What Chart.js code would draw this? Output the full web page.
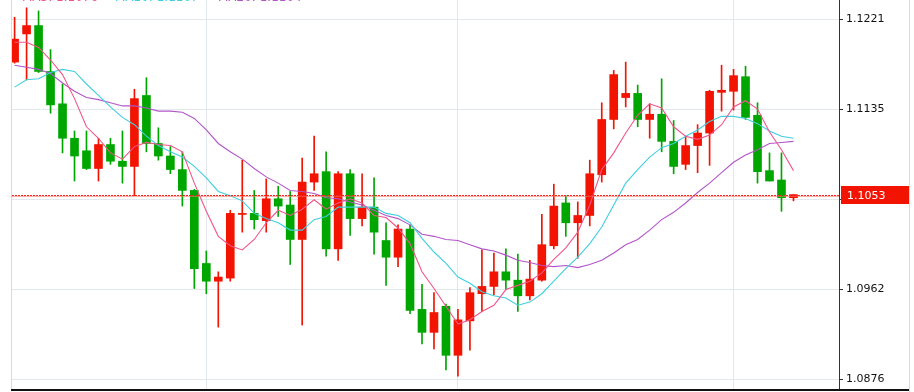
<!DOCTYPE html>
<html>
<head>
<meta charset="utf-8">
<script src="https://cdn.jsdelivr.net/npm/chart.js@4.4.1/dist/chart.umd.min.js"></script>
<style>
  html, body { margin: 0; padding: 0; background: #fff; }
  canvas { display: block; }
</style>
</head>
<body>
<canvas id="kChart" width="914" height="392"></canvas>
<script>
// daily candles (OHLC)
const opens = [1.1180, 1.1207, 1.1215, 1.1171, 1.1140, 1.1107, 1.1095, 1.1078, 1.1101, 1.1085,
  1.1080, 1.1148, 1.1102, 1.1090, 1.1077, 1.1057, 1.0987, 1.0970, 1.0973, 1.1034,
  1.1035, 1.1028, 1.1049, 1.1043, 1.1010, 1.1065, 1.1075, 1.1001, 1.1073, 1.1030,
  1.1041, 1.1009, 1.0993, 1.1020, 1.0943, 1.0921, 1.0946, 1.0899, 1.0932, 1.0958,
  1.0965, 1.0979, 1.0971, 1.0956, 1.0971, 1.1004, 1.1045, 1.1026, 1.1033, 1.1072,
  1.1125, 1.1146, 1.1150, 1.1125, 1.1130, 1.1104, 1.1082, 1.1100, 1.1112, 1.1151,
  1.1152, 1.1166, 1.1129, 1.1076, 1.1067, 1.1050];
const highs = [1.1223, 1.1232, 1.1229, 1.1192, 1.1159, 1.1114, 1.1114, 1.1107, 1.1107, 1.1114,
  1.1154, 1.1165, 1.1117, 1.1099, 1.1094, 1.1058, 1.0999, 1.0979, 1.1038, 1.1086,
  1.1057, 1.1068, 1.1061, 1.1056, 1.1088, 1.1109, 1.1094, 1.1075, 1.1077, 1.1073,
  1.1069, 1.1026, 1.1024, 1.1024, 1.0967, 1.0959, 1.0948, 1.0943, 1.0964, 1.1000,
  1.0997, 1.1001, 1.0996, 1.0990, 1.1034, 1.1063, 1.1052, 1.1046, 1.1086, 1.1141,
  1.1172, 1.1180, 1.1158, 1.1140, 1.1164, 1.1124, 1.1108, 1.1120, 1.1153, 1.1177,
  1.1173, 1.1176, 1.1141, 1.1093, 1.1093, 1.1053];
const lows = [1.1179, 1.1163, 1.1170, 1.1131, 1.1093, 1.1066, 1.1077, 1.1066, 1.1082, 1.1064,
  1.1052, 1.1094, 1.1086, 1.1073, 1.1042, 1.0963, 1.0958, 1.0926, 1.0970, 1.1017,
  1.1020, 1.1017, 1.1032, 1.0986, 1.0928, 1.1057, 1.0994, 1.0990, 1.1014, 1.1023,
  1.0996, 1.0966, 1.0984, 1.0939, 1.0910, 1.0905, 1.0885, 1.0879, 1.0904, 1.0941,
  1.0957, 1.0962, 1.0941, 1.0952, 1.0970, 1.1001, 1.1013, 1.0992, 1.1023, 1.1065,
  1.1116, 1.1137, 1.1118, 1.1107, 1.1094, 1.1073, 1.1077, 1.1074, 1.1081, 1.1133,
  1.1134, 1.1125, 1.1064, 1.1066, 1.1037, 1.1047];
const closes = [1.1202, 1.1215, 1.1171, 1.1139, 1.1107, 1.1090, 1.1078, 1.1101, 1.1085, 1.1080,
  1.1145, 1.1102, 1.1090, 1.1077, 1.1057, 1.0982, 1.0970, 1.0974, 1.1035, 1.1035,
  1.1029, 1.1049, 1.1042, 1.1010, 1.1065, 1.1073, 1.1001, 1.1073, 1.1030, 1.1041,
  1.1017, 1.0993, 1.1020, 1.0942, 1.0921, 1.0940, 1.0899, 1.0933, 1.0959, 1.0965,
  1.0979, 1.0971, 1.0956, 1.0972, 1.1005, 1.1042, 1.1026, 1.1033, 1.1073, 1.1125,
  1.1168, 1.1150, 1.1125, 1.1130, 1.1104, 1.1080, 1.1100, 1.1112, 1.1152, 1.1153,
  1.1167, 1.1127, 1.1075, 1.1066, 1.1050, 1.1053];

// moving averages as drawn on the screenshot
const ma5 = [1.1199, 1.1199, 1.1194, 1.1182, 1.1168, 1.1145, 1.1118, 1.1107, 1.1093, 1.1087,
  1.1099, 1.1103, 1.1101, 1.1100, 1.1094, 1.1064, 1.1037, 1.1013, 1.1004, 1.1000,
  1.1010, 1.1026, 1.1038, 1.1033, 1.1039, 1.1048, 1.1039, 1.1045, 1.1049, 1.1045,
  1.1033, 1.1031, 1.1021, 1.1006, 1.0979, 1.0963, 1.0946, 1.0929, 1.0933, 1.0941,
  1.0947, 1.0962, 1.0966, 1.0970, 1.0978, 1.0991, 1.1002, 1.1017, 1.1043, 1.1077,
  1.1093, 1.1112, 1.1129, 1.1140, 1.1136, 1.1118, 1.1109, 1.1106, 1.1110, 1.1120,
  1.1137, 1.1143, 1.1135, 1.1113, 1.1096, 1.1076];
const ma10 = [1.1156, 1.1163, 1.1164, 1.1170, 1.1173, 1.1171, 1.1159, 1.1148, 1.1137, 1.1127,
  1.1120, 1.1109, 1.1100, 1.1094, 1.1089, 1.1080, 1.1069, 1.1056, 1.1052, 1.1047,
  1.1035, 1.1030, 1.1026, 1.1019, 1.1019, 1.1029, 1.1032, 1.1041, 1.1041, 1.1041,
  1.1041, 1.1035, 1.1033, 1.1026, 1.1011, 1.0998, 1.0987, 1.0974, 1.0968, 1.0960,
  1.0956, 1.0954, 1.0947, 1.0950, 1.0958, 1.0970, 1.0982, 1.0993, 1.1006, 1.1022,
  1.1043, 1.1064, 1.1077, 1.1089, 1.1098, 1.1102, 1.1109, 1.1115, 1.1123, 1.1128,
  1.1128, 1.1126, 1.1121, 1.1114, 1.1109, 1.1107];
const ma20 = [1.1177, 1.1175, 1.1173, 1.1169, 1.1160, 1.1152, 1.1146, 1.1144, 1.1141, 1.1138,
  1.1138, 1.1136, 1.1133, 1.1133, 1.1132, 1.1126, 1.1115, 1.1102, 1.1094, 1.1087,
  1.1078, 1.1070, 1.1064, 1.1057, 1.1056, 1.1054, 1.1050, 1.1049, 1.1046, 1.1043,
  1.1038, 1.1033, 1.1030, 1.1024, 1.1015, 1.1013, 1.1010, 1.1009, 1.1005, 1.1001,
  1.0999, 1.0995, 1.0990, 1.0988, 1.0985, 1.0984, 1.0985, 1.0983, 1.0986, 1.0990,
  1.0997, 1.1005, 1.1010, 1.1019, 1.1029, 1.1036, 1.1045, 1.1055, 1.1064, 1.1074,
  1.1084, 1.1091, 1.1096, 1.1102, 1.1103, 1.1104];

const yTicks = [1.0876, 1.0962, 1.1048, 1.1135, 1.1221];
const gridIdx = [16, 37, 60];   // candles where the vertical grid lines sit
const maNames = ['MA5', 'MA10', 'MA20'];

const UP = '#f21300';
const DOWN = '#00a600';
const MA_COLORS = ['#f0558a', '#3fcfe0', '#b255c8'];
const AXIS_FONT = { family: 'DejaVu Sans', size: 11 };

const candleColors = closes.map((c, i) => c >= opens[i] ? UP : DOWN);
const bodies = opens.map((o, i) => ({ x: i, y: [o, closes[i]] }));
const wicks = lows.map((l, i) => ({ x: i, y: [l, highs[i]] }));
const toPts = arr => arr.map((v, i) => ({ x: i, y: v }));

// frame, last price marker and the (cut off) MA readout at the top
const extras = {
  id: 'extras',
  afterDraw(chart) {
    const { ctx, chartArea: a, scales: { y } } = chart;
    const W = chart.width;
    ctx.save();

    ctx.strokeStyle = '#d6dbe0';
    ctx.lineWidth = 1;
    ctx.beginPath();
    ctx.moveTo(Math.round(a.left) + 0.5, 0);
    ctx.lineTo(Math.round(a.left) + 0.5, a.bottom);
    ctx.moveTo(W - 4.5, 0);
    ctx.lineTo(W - 4.5, chart.height);
    ctx.stroke();

    ctx.fillStyle = '#111';
    ctx.fillRect(a.left, a.bottom, W - 5 - a.left, 2);

    // last price: dotted line plus the red tag on the axis
    const last = closes[closes.length - 1];
    const py = Math.round(y.getPixelForValue(last));
    ctx.fillStyle = 'rgba(255, 110, 100, 0.55)';
    ctx.fillRect(a.left, py + 1, a.right - a.left, 1);
    ctx.fillStyle = '#f52a1e';
    for (let x = Math.round(a.left) + 1; x < a.right; x += 3) {
      ctx.fillRect(x, py, 2, 1);
    }

    ctx.fillStyle = '#f21300';
    ctx.fillRect(a.right + 2, py - 9, W - 5 - a.right - 2, 18);
    ctx.fillStyle = '#fff';
    ctx.font = '11px "DejaVu Sans"';
    ctx.textBaseline = 'middle';
    ctx.fillText(last.toFixed(4), a.right + 8, py + 1);

    ctx.font = '12px "DejaVu Sans"';
    ctx.textBaseline = 'alphabetic';
    const mas = [ma5, ma10, ma20];
    const xs = [22, 115, 218];
    mas.forEach((m, k) => {
      ctx.fillStyle = MA_COLORS[k];
      ctx.fillText(maNames[k] + ': ' + m[m.length - 1].toFixed(4), xs[k], 0.5);
    });
    ctx.restore();
  }
};

const ctx = document.getElementById('kChart').getContext('2d');
const kChart = new Chart(ctx, {
  data: {
    datasets: [
      { type: 'line', label: 'MA5', data: toPts(ma5), borderColor: MA_COLORS[0], borderWidth: 1.1, pointRadius: 0, order: 0 },
      { type: 'line', label: 'MA10', data: toPts(ma10), borderColor: MA_COLORS[1], borderWidth: 1.1, pointRadius: 0, order: 0 },
      { type: 'line', label: 'MA20', data: toPts(ma20), borderColor: MA_COLORS[2], borderWidth: 1.1, pointRadius: 0, order: 0 },
      {
        type: 'bar', label: 'body', data: bodies,
        backgroundColor: candleColors, barThickness: 8, minBarLength: 1,
        grouped: false, order: 1
      },
      {
        type: 'bar', label: 'wick', data: wicks,
        backgroundColor: candleColors, barThickness: 1,
        grouped: false, order: 2
      }
    ]
  },
  options: {
    responsive: false,
    animation: false,
    events: [],
    layout: { padding: { left: 11, top: 0, right: 0, bottom: 0 } },
    plugins: {
      legend: { display: false },
      tooltip: { enabled: false }
    },
    scales: {
      x: {
        type: 'linear',
        offset: false,
        min: -0.3,
        max: 68.8,
        afterBuildTicks: s => { s.ticks = gridIdx.map(v => ({ value: v })); },
        afterFit: s => { s.height = 3; s.paddingLeft = 0; s.paddingRight = 0; },
        ticks: { display: false },
        grid: { color: '#e3e8ed', drawTicks: false, offset: false },
        border: { display: false }
      },
      y: {
        position: 'right',
        min: 1.08667,
        max: 1.12395,
        afterBuildTicks: s => { s.ticks = yTicks.map(v => ({ value: v })); },
        afterFit: s => { s.width = 75; s.paddingTop = 0; s.paddingBottom = 0; },
        ticks: {
          color: '#111',
          font: AXIS_FONT,
          padding: 3,
          callback: v => v.toFixed(4)
        },
        grid: { color: '#e3e8ed', tickLength: 4, tickColor: '#333' },
        border: { color: '#333', width: 1 }
      }
    }
  },
  plugins: [extras]
});
</script>
</body>
</html>
